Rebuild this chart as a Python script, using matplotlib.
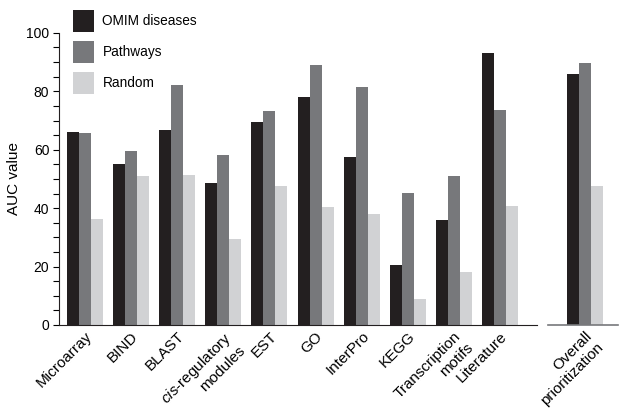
import numpy as np
import matplotlib.pyplot as plt
from matplotlib.ticker import MultipleLocator

plt.rcParams['font.family'] = ['Liberation Sans', 'DejaVu Sans']
plt.rcParams['mathtext.fontset'] = 'custom'
plt.rcParams['mathtext.rm'] = 'Liberation Sans'
plt.rcParams['mathtext.it'] = 'Liberation Sans:italic'

# data
sources = ['Microarray', 'BIND', 'BLAST', '$\\it{cis}$-regulatory\nmodules', 'EST', 'GO',
           'InterPro', 'KEGG', 'Transcription\nmotifs', 'Literature']
omim = [66.0, 55.1, 66.8, 48.7, 69.5, 78.1, 57.5, 20.5, 36.0, 93.2]
pathways = [65.8, 59.6, 82.2, 58.3, 73.3, 89.0, 81.5, 45.2, 51.0, 73.6]
random_ = [36.3, 51.1, 51.5, 29.5, 47.7, 40.5, 38.0, 8.9, 18.2, 40.8]

overall_label = ['Overall\nprioritization']
overall_omim = [86.0]
overall_pathways = [89.7]
overall_random = [47.6]

series_names = ['OMIM diseases', 'Pathways', 'Random']
colors = ['#231f20', '#77787b', '#d1d2d4']

w = 0.26

fig = plt.figure(figsize=(6.2, 4.12), dpi=100)
ax = fig.add_axes([0.0952, 0.2112, 0.771, 0.709])
ax2 = fig.add_axes([0.884, 0.2112, 0.113, 0.709])

x = np.arange(len(sources))
bars = []
for i, (vals, c) in enumerate(zip([omim, pathways, random_], colors)):
    bars.append(ax.bar(x + (i - 1) * w, vals, w, color=c, label=series_names[i]))

x2 = np.arange(1)
for i, (vals, c) in enumerate(zip([overall_omim, overall_pathways, overall_random], colors)):
    ax2.bar(x2 + (i - 1) * w, vals, w, color=c)

ax.set_xlim(-0.56, 9.80)
ax.set_ylim(0, 100)
ax2.set_xlim(-0.80, 0.72)
ax2.set_ylim(0, 100)

ax.spines['top'].set_visible(False)
ax.spines['right'].set_visible(False)
ax.spines['left'].set_color('#231f20')
ax.spines['bottom'].set_color('#231f20')
ax.yaxis.set_major_locator(MultipleLocator(20))
ax.yaxis.set_minor_locator(MultipleLocator(5))
ax.tick_params(axis='y', which='both', direction='out', length=4, width=0.8,
               labelsize=10, pad=3)
ax.tick_params(axis='x', length=0, pad=3)
ax.set_xticks(x)
ax.set_xticklabels(sources, rotation=45, ha='right', va='top', rotation_mode='anchor',
                   multialignment='right', fontsize=11, linespacing=1.2)
ax.set_ylabel('AUC value', fontsize=11, labelpad=3.5)

for s in ['top', 'right', 'left']:
    ax2.spines[s].set_visible(False)
ax2.spines['bottom'].set_color('#77787b')
ax2.spines['bottom'].set_linewidth(1.2)
ax2.set_yticks([])
ax2.tick_params(axis='x', length=0, pad=3)
ax2.set_xticks(x2)
ax2.set_xticklabels(overall_label, rotation=45, ha='right', va='top', rotation_mode='anchor',
                    multialignment='right', fontsize=11, linespacing=1.2)

fig.legend(handles=bars, loc='upper left', bbox_to_anchor=(0.117, 0.976), frameon=False,
           fontsize=9.8, handlelength=1.54, handleheight=2.11, labelspacing=0.66,
           handletextpad=0.66, borderpad=0, borderaxespad=0)

fig.savefig('out.png', dpi=100)
